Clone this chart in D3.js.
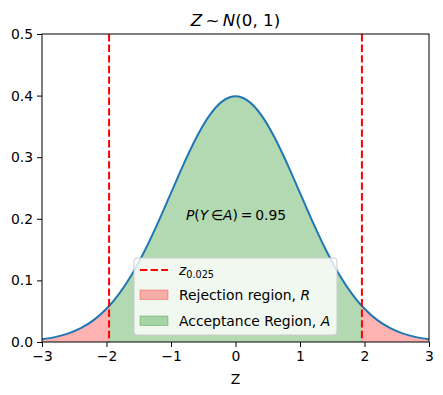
<!DOCTYPE html>
<html><head><meta charset="utf-8">
<script src="https://cdn.jsdelivr.net/npm/d3@7/dist/d3.min.js"></script>
<style>body{margin:0;background:#fff}svg{display:block;font-family:"DejaVu Sans",sans-serif}</style>
</head><body><svg id="c" width="443" height="395"></svg>
<script>
// Curve samples (standard normal density)
const zValues = [-3,-2.8,-2.6,-2.4,-2.2,-2,-1.96,-1.8,-1.6,-1.4,-1.2,-1,-0.8,-0.6,-0.4,-0.2,0,0.2,0.4,0.6,0.8,1,1.2,1.4,1.6,1.8,1.96,2,2.2,2.4,2.6,2.8,3];
const density = [0.0044,0.0079,0.0136,0.0224,0.0355,0.0540,0.0584,0.0790,0.1109,0.1497,0.1942,0.2420,0.2897,0.3332,0.3683,0.3910,0.3989,0.3910,0.3683,0.3332,0.2897,0.2420,0.1942,0.1497,0.1109,0.0790,0.0584,0.0540,0.0355,0.0224,0.0136,0.0079,0.0044];
const criticalValues = [-1.96, 1.96];
const xTicks = [-3,-2,-1,0,1,2,3];
const yTicks = [0.0,0.1,0.2,0.3,0.4,0.5];

const svg = d3.select("#c");
const L=42,R=429,T=34,B=342;
const FS = "13.9px";
const x = d3.scaleLinear().domain([-3,3]).range([L,R]);
const y = d3.scaleLinear().domain([0,0.5]).range([B,T]);
const pts = zValues.map((z,i)=>({z, d:density[i]}));
const area = d3.area().x(p=>x(p.z)).y0(y(0)).y1(p=>y(p.d)).curve(d3.curveMonotoneX);
const line = d3.line().x(p=>x(p.z)).y(p=>y(p.d)).curve(d3.curveMonotoneX);

const c = criticalValues[1];
const redFill = "rgba(255,0,0,0.3)", greenFill = "rgba(0,128,0,0.3)";
svg.append("path").attr("d", area(pts.filter(p=>p.z<=-c))).attr("fill",redFill);
svg.append("path").attr("d", area(pts.filter(p=>p.z>=c))).attr("fill",redFill);
svg.append("path").attr("d", area(pts.filter(p=>p.z>=-c && p.z<=c))).attr("fill",greenFill);
svg.append("path").attr("d", line(pts)).attr("fill","none").attr("stroke","#1f77b4").attr("stroke-width",2);

criticalValues.forEach(v=>{
  svg.append("line").attr("x1",x(v)).attr("x2",x(v)).attr("y1",T).attr("y2",B)
    .attr("stroke","#ff0000").attr("stroke-width",2).attr("stroke-dasharray","7.4,3.2");
});

// axes
const xa = svg.append("g").attr("transform",`translate(0,${B})`)
  .call(d3.axisBottom(x).tickValues(xTicks).tickSize(5).tickPadding(4).tickFormat(d=>d<0?"\u2212"+Math.abs(d):d));
const ya = svg.append("g").attr("transform",`translate(${L},0)`)
  .call(d3.axisLeft(y).tickValues(yTicks).tickSize(5).tickPadding(4).tickFormat(d3.format(".1f")));
[xa,ya].forEach(g=>{
  g.select(".domain").remove();
  g.selectAll(".tick line").attr("stroke","#000").attr("stroke-width",1);
  g.selectAll(".tick text").attr("fill","#000").style("font-size",FS).style("font-family","DejaVu Sans");
});
svg.append("rect").attr("x",L).attr("y",T).attr("width",R-L).attr("height",B-T)
  .attr("fill","none").attr("stroke","#000").attr("stroke-width",1);

// title
const title = svg.append("text").attr("x",(L+R)/2).attr("y",26).attr("text-anchor","middle").style("font-size","16.7px");
title.append("tspan").style("font-style","italic").text("Z");
title.append("tspan").text("\u2009~\u2009");
title.append("tspan").style("font-style","italic").text("N");
title.append("tspan").text("(0, 1)");

// axis label
svg.append("text").attr("x",(L+R)/2).attr("y",384).attr("text-anchor","middle").style("font-size",FS).text("Z");

// annotation
const ann = svg.append("text").attr("x",236).attr("y",220).attr("text-anchor","middle").style("font-size",FS);
ann.append("tspan").style("font-style","italic").text("P");
ann.append("tspan").text("(");
ann.append("tspan").style("font-style","italic").text("Y");
ann.append("tspan").text("\u2009\u2208");
ann.append("tspan").style("font-style","italic").text("A");
ann.append("tspan").text(")\u2009=\u20090.95");

// legend
const lg = svg.append("g");
lg.append("rect").attr("x",134).attr("y",258).attr("width",203).attr("height",77).attr("rx",3)
  .attr("fill","rgba(255,255,255,0.8)").attr("stroke","#cccccc").attr("stroke-width",1);
lg.append("line").attr("x1",140).attr("x2",168).attr("y1",270).attr("y2",270)
  .attr("stroke","#ff0000").attr("stroke-width",2).attr("stroke-dasharray","7.4,3.2");
const lt = lg.append("text").attr("x",179).attr("y",275).style("font-size",FS);
lt.append("tspan").style("font-style","italic").text("z");
lt.append("tspan").attr("dy",3).style("font-size","9.7px").text("0.025");
lg.append("rect").attr("x",140).attr("y",290).attr("width",28).attr("height",9.5)
  .attr("fill",redFill).attr("stroke","rgba(255,0,0,0.3)");
const t2 = lg.append("text").attr("x",179).attr("y",299.5).style("font-size",FS);
t2.append("tspan").text("Rejection region, ");
t2.append("tspan").style("font-style","italic").text("R");
lg.append("rect").attr("x",140).attr("y",316).attr("width",28).attr("height",9.5)
  .attr("fill",greenFill).attr("stroke","rgba(0,128,0,0.3)");
const t3 = lg.append("text").attr("x",179).attr("y",325.5).style("font-size",FS);
t3.append("tspan").text("Acceptance Region, ");
t3.append("tspan").style("font-style","italic").text("A");
</script></body></html>
